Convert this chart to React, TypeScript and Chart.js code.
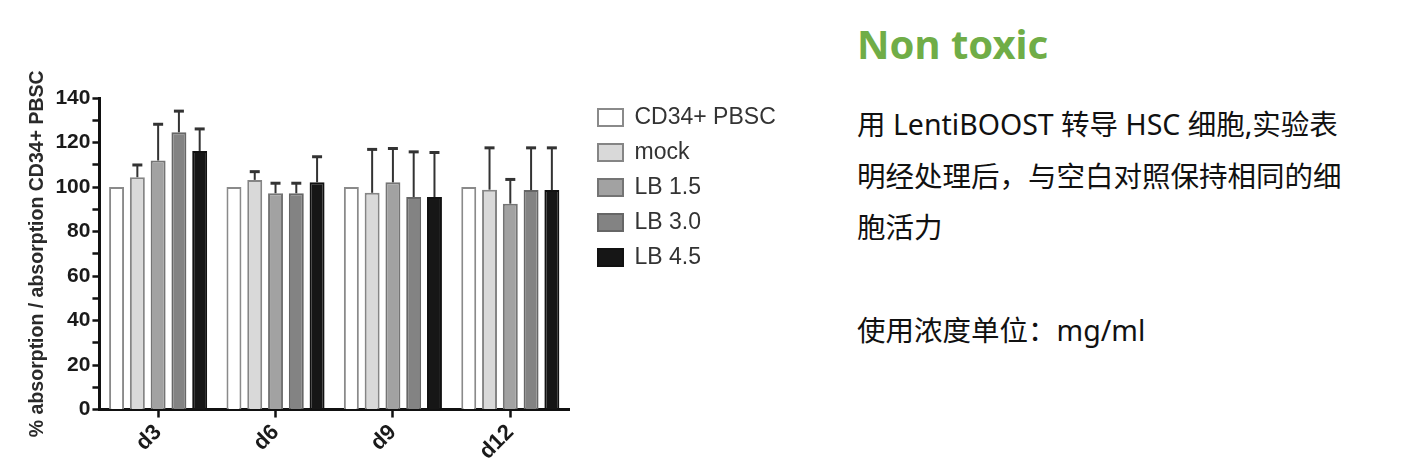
import React, { useEffect, useRef } from 'react';
import { Chart, registerables } from 'chart.js';

Chart.register(...registerables);

// ---------- data ----------
const categories = ['d3', 'd6', 'd9', 'd12'];
const seriesNames = ['CD34+ PBSC', 'mock', 'LB 1.5', 'LB 3.0', 'LB 4.5'];
const cd34Values = [100, 100, 100, 100];
const mockValues = [104.4, 103.2, 97.4, 98.8];
const lb15Values = [111.9, 97.2, 102.1, 92.5];
const lb30Values = [124.6, 97.2, 95.5, 98.6];
const lb45Values = [116.2, 102.1, 95.5, 98.6];
const cd34Errors = [0, 0, 0, 0];
const mockErrors = [5.5, 3.7, 19.5, 18.8];
const lb15Errors = [16.3, 4.5, 15.2, 10.9];
const lb30Errors = [9.5, 4.5, 20.3, 19.0];
const lb45Errors = [9.9, 11.5, 20.0, 19.0];
const yMin = 0;
const yMax = 140;
const yMajorStep = 20;
const yMinorStep = 10;
const yTitle = '% absorption / absorption CD34+ PBSC';

const seriesValues = [cd34Values, mockValues, lb15Values, lb30Values, lb45Values];
const seriesErrors = [cd34Errors, mockErrors, lb15Errors, lb30Errors, lb45Errors];
const fills = ['#ffffff', '#d9d9d9', '#a2a2a2', '#838383', '#161616'];
const borders = ['#8a8a8a', '#858585', '#747474', '#666666', '#111111'];

const FONT = '"Liberation Sans", Arial, sans-serif';

const errorBarPlugin = {
  id: 'errorBars',
  afterDatasetsDraw(chart: any) {
    const ctx = chart.ctx;
    const yScale = chart.scales.y;
    chart.data.datasets.forEach((ds: any, i: number) => {
      const meta = chart.getDatasetMeta(i);
      const errs = seriesErrors[i];
      meta.data.forEach((bar: any, j: number) => {
        const e = errs[j];
        if (!e) return;
        const v = ds.data[j];
        const x = bar.x;
        const yBase = yScale.getPixelForValue(v);
        const yTop = yScale.getPixelForValue(v + e);
        ctx.save();
        ctx.strokeStyle = '#333333';
        ctx.lineWidth = 2;
        ctx.beginPath();
        ctx.moveTo(x, yBase);
        ctx.lineTo(x, yTop);
        ctx.stroke();
        ctx.lineWidth = 3;
        ctx.beginPath();
        ctx.moveTo(x - 5, yTop);
        ctx.lineTo(x + 5, yTop);
        ctx.stroke();
        ctx.restore();
      });
    });
  },
};

const LEGEND_DX = 17;
const LEGEND_DY = -4;
const legendShiftPlugin = {
  id: 'legendShift',
  afterLayout(chart: any) {
    const l = chart.legend;
    if (!l) return;
    l.left += LEGEND_DX;
    l.right = chart.width;
    l.top += LEGEND_DY;
    l.bottom += LEGEND_DY;
  },
};

function BarChart() {
  const ref = useRef<HTMLCanvasElement | null>(null);
  useEffect(() => {
    if (!ref.current) return;
    const chart = new Chart(ref.current, {
      type: 'bar',
      data: {
        labels: categories,
        datasets: seriesNames.map((name, i) => ({
          label: name,
          data: seriesValues[i],
          backgroundColor: fills[i],
          borderColor: borders[i],
          borderWidth: 2,
          categoryPercentage: 0.885,
          barPercentage: 0.72,
        })),
      },
      options: {
        animation: false,
        responsive: true,
        maintainAspectRatio: false,
        devicePixelRatio: 1,
        layout: { padding: { top: 98, left: 26, right: 50, bottom: 3 } },
        plugins: {
          tooltip: { enabled: false },
          legend: {
            position: 'right',
            align: 'start',
            labels: {
              boxWidth: 25,
              boxHeight: 17,
              padding: 12,
              color: '#333333',
              font: { family: FONT, size: 23 },
            },
          },
        },
        scales: {
          x: {
            offset: true,
            grid: {
              offset: false,
              drawOnChartArea: false,
              drawTicks: true,
              tickLength: 8,
              tickWidth: 2.5,
              tickColor: '#111111',
            },
            border: { color: '#111111', width: 3 },
            ticks: {
              minRotation: 45,
              maxRotation: 45,
              padding: 2,
              color: '#1a1a1a',
              font: { family: FONT, size: 22, weight: 'bold' },
            },
          },
          y: {
            min: yMin,
            max: yMax,
            grid: {
              drawOnChartArea: false,
              drawTicks: true,
              tickLength: 7,
              tickWidth: 2.5,
              tickColor: '#111111',
            },
            border: { color: '#111111', width: 3 },
            ticks: {
              stepSize: yMinorStep,
              autoSkip: false,
              padding: 2,
              color: '#1a1a1a',
              font: { family: FONT, size: 21, weight: 'bold' },
              callback: (v: any) => (Number(v) % yMajorStep === 0 ? String(v) : ''),
            },
            title: {
              display: true,
              text: yTitle,
              color: '#2a2a2a',
              font: { family: FONT, size: 19.5, weight: 'bold' },
              padding: { top: 0, bottom: 4 },
            },
          },
        },
      },
      plugins: [errorBarPlugin, legendShiftPlugin],
    } as any);
    return () => chart.destroy();
  }, []);
  return <canvas ref={ref} />;
}

export default function App() {
  const textFont = '"Noto Sans", "Noto Sans CJK SC", sans-serif';
  return (
    <div style={{ position: 'absolute', left: 0, top: 0, width: 1409, height: 470, background: '#ffffff', overflow: 'hidden' }}>
      <div style={{ position: 'absolute', left: 0, top: 0, width: 800, height: 470 }}>
        <BarChart />
      </div>
      <div
        style={{
          position: 'absolute',
          left: 857,
          top: 24,
          fontFamily: textFont,
          fontWeight: 700,
          fontSize: 40,
          lineHeight: '40px',
          color: '#70ad47',
          whiteSpace: 'nowrap',
        }}
      >
        Non toxic
      </div>
      <div
        style={{
          position: 'absolute',
          left: 857,
          top: 99,
          fontFamily: textFont,
          fontSize: 28.5,
          lineHeight: '51.5px',
          color: '#111111',
          whiteSpace: 'nowrap',
        }}
      >
        <div>用 LentiBOOST 转导 HSC 细胞,实验表</div>
        <div>明经处理后，与空白对照保持相同的细</div>
        <div>胞活力</div>
        <div>&nbsp;</div>
        <div>使用浓度单位：mg/ml</div>
      </div>
    </div>
  );
}
